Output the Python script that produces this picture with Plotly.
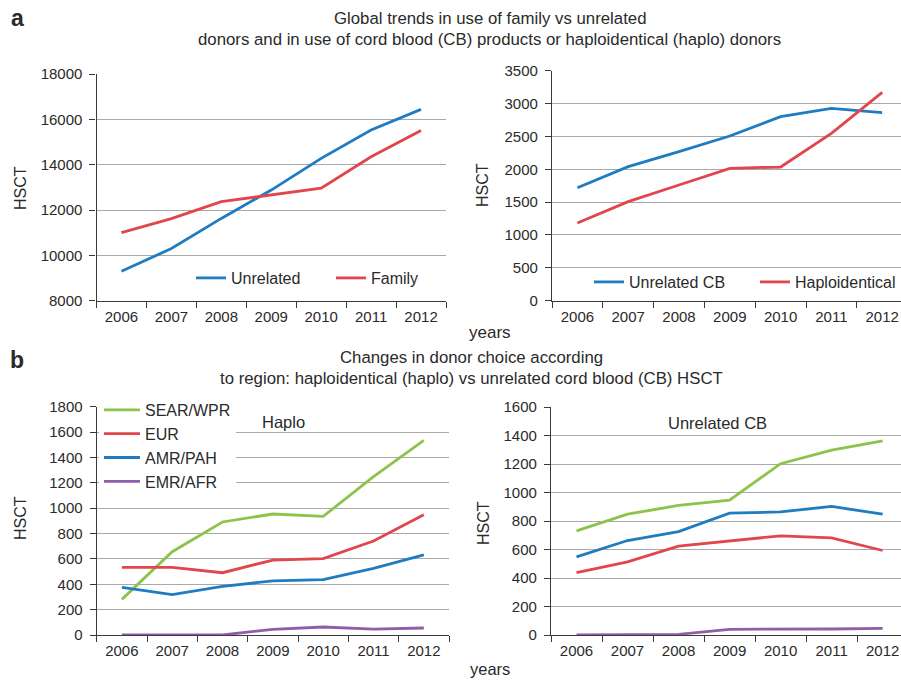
import plotly.graph_objects as go

# ---------------- data ----------------
years = ["2006", "2007", "2008", "2009", "2010", "2011", "2012"]

unrelated = [9300, 10300, 11630, 12880, 14280, 15530, 16440]
family = [11000, 11620, 12370, 12660, 12960, 14350, 15510]

unrelated_cb = [1720, 2040, 2268, 2506, 2800, 2927, 2861]
haploidentical = [1182, 1507, 1760, 2014, 2034, 2547, 3171]

region_names = ["SEAR/WPR", "EUR", "AMR/PAH", "EMR/AFR"]
haplo_sear = [281, 657, 891, 954, 935, 1248, 1534]
haplo_eur = [533, 533, 491, 591, 602, 741, 948]
haplo_amr = [376, 318, 384, 426, 436, 525, 631]
haplo_emr = [0, 0, 0, 45, 63, 47, 55]

cb_sear = [731, 848, 909, 946, 1202, 1298, 1363]
cb_eur = [438, 513, 623, 661, 696, 681, 593]
cb_amr = [548, 663, 726, 855, 864, 902, 848]
cb_emr = [0, 0, 5, 40, 40, 42, 47]

# ---------------- style ----------------
W, H = 901, 680
FONT = "Liberation Sans, Arial, Helvetica, sans-serif"
TXT = "#2a2a2a"
BLUE = "#1f7cc1"
RED = "#e0464b"
GREEN = "#8cc34a"
PURPLE = "#8e5ea8"
GRID = "#a9a9a9"
AXIS = "#3a3a3a"
LW = 2.8


def fx(px):
    return px / W


def fy(py):
    return 1 - py / H


fig = go.Figure()

# panel a left
fig.add_trace(go.Scatter(x=years, y=unrelated, name="Unrelated", mode="lines",
                         line=dict(color=BLUE, width=LW), xaxis="x", yaxis="y", legend="legend"))
fig.add_trace(go.Scatter(x=years, y=family, name="Family", mode="lines",
                         line=dict(color=RED, width=LW), xaxis="x", yaxis="y", legend="legend"))
# panel a right
fig.add_trace(go.Scatter(x=years, y=unrelated_cb, name="Unrelated CB", mode="lines",
                         line=dict(color=BLUE, width=LW), xaxis="x2", yaxis="y2", legend="legend2"))
fig.add_trace(go.Scatter(x=years, y=haploidentical, name="Haploidentical", mode="lines",
                         line=dict(color=RED, width=LW), xaxis="x2", yaxis="y2", legend="legend2"))

# panel b
colors = [GREEN, RED, BLUE, PURPLE]
haplo_series = [haplo_sear, haplo_eur, haplo_amr, haplo_emr]
cb_series = [cb_sear, cb_eur, cb_amr, cb_emr]
for name, col, ys in zip(region_names, colors, haplo_series):
    fig.add_trace(go.Scatter(x=years, y=ys, name=name, mode="lines",
                             line=dict(color=col, width=LW), xaxis="x3", yaxis="y3", legend="legend3"))
for name, col, ys in zip(region_names, colors, cb_series):
    fig.add_trace(go.Scatter(x=years, y=ys, name=name, mode="lines", showlegend=False,
                             line=dict(color=col, width=LW), xaxis="x4", yaxis="y4"))


def xax(domain, rng, anchor):
    return dict(domain=domain, anchor=anchor, type="category", range=rng,
                showline=True, linecolor=AXIS, linewidth=1.2,
                ticks="outside", tickson="boundaries", ticklen=6, tickcolor=AXIS, tickwidth=1,
                showgrid=False, zeroline=False,
                tickfont=dict(size=15, color=TXT, family=FONT), ticklabelstandoff=2)


def yax(domain, rng, dtick, anchor):
    return dict(domain=domain, anchor=anchor, range=rng, dtick=dtick, tickformat="d",
                showline=True, linecolor=AXIS, linewidth=1.2,
                ticks="outside", ticklen=6, tickcolor=AXIS, tickwidth=1,
                showgrid=True, gridcolor=GRID, gridwidth=1, zeroline=False,
                tickfont=dict(size=15, color=TXT, family=FONT), ticklabelstandoff=4)


annotations = []


def ann(text, x, y, size=15, **kw):
    d = dict(text=text, x=fx(x), y=fy(y), xref="paper", yref="paper",
             showarrow=False, xanchor="center", yanchor="middle",
             font=dict(size=size, color=TXT, family=FONT))
    d.update(kw)
    annotations.append(d)


TS = 16.8
ann("<b>a</b>", 17, 18, size=23)
ann("<b>b</b>", 17, 360, size=23)
ann("Global trends in use of family vs unrelated", 490, 18, size=TS)
ann("donors and in use of cord blood (CB) products or haploidentical (haplo) donors", 490, 39, size=TS)
ann("Changes in donor choice according", 471, 357, size=TS)
ann("to region: haploidentical (haplo) vs unrelated cord blood (CB) HSCT", 471, 378, size=TS)
ann("years", 490, 332, size=17)
ann("years", 490, 669, size=16.5)
ann("HSCT", 20, 188, size=16, textangle=-90)
ann("HSCT", 483, 185, size=16, textangle=-90)
ann("HSCT", 20, 518, size=16, textangle=-90)
ann("HSCT", 483, 523, size=16, textangle=-90)
ann("Haplo", 283, 422, size=16.5)
ann("Unrelated CB", 717, 423, size=16.5)

legfont = dict(size=16, color=TXT, family=FONT)

fig.update_layout(
    width=W, height=H,
    margin=dict(l=0, r=0, t=0, b=0, autoexpand=False),
    paper_bgcolor="white", plot_bgcolor="white",
    font=dict(family=FONT, color=TXT),
    xaxis=xax([fx(96.5), fx(446)], [-0.5, 6.5], "y"),
    yaxis=yax([fy(300.7), fy(74)], [8000, 18000], 2000, "x"),
    xaxis2=xax([fx(552), 1], [-0.5, 6.37], "y2"),
    yaxis2=yax([fy(300.7), fy(70.7)], [0, 3500], 500, "x2"),
    xaxis3=xax([fx(96.7), fx(449)], [-0.5, 6.5], "y3"),
    yaxis3=yax([fy(635), fy(406.7)], [0, 1800], 200, "x3"),
    xaxis4=xax([fx(551), 1], [-0.5, 6.36], "y4"),
    yaxis4=yax([fy(635), fy(407)], [0, 1600], 200, "x4"),
    legend=dict(orientation="h", x=fx(191), xanchor="left", y=fy(278), yanchor="middle",
                bgcolor="rgba(0,0,0,0)", font=legfont, entrywidth=95),
    legend2=dict(orientation="h", x=fx(589), xanchor="left", y=fy(282), yanchor="middle",
                 bgcolor="rgba(0,0,0,0)", font=legfont, entrywidth=121),
    legend3=dict(orientation="v", x=fx(99), xanchor="left", y=fy(393), yanchor="top",
                 bgcolor="white", font=legfont, tracegroupgap=0, itemwidth=36),
    annotations=annotations,
)

fig.write_html("out.html")
